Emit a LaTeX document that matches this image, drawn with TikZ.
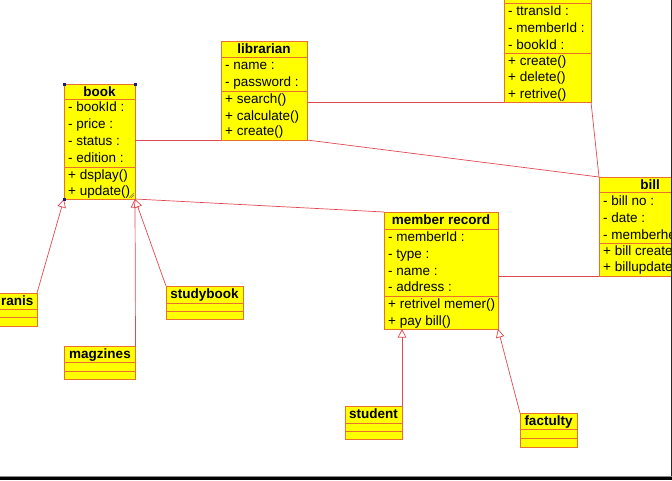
\documentclass[tikz,border=0pt]{standalone}
\usepackage{fontspec}
\setmainfont{Liberation Sans}
\usetikzlibrary{arrows.meta}

\definecolor{classfill}{RGB}{255,255,0}
\definecolor{classedge}{RGB}{234,112,44}
\definecolor{linkred}{RGB}{226,72,82}
\definecolor{handle}{RGB}{30,30,120}
\definecolor{grip}{RGB}{120,130,40}

% a class rectangle from (x0,y0) to (x1,y1) with two compartment rules
\newcommand\classbox[7]{%
  \node[classrect, minimum width={(#4-#2)*1pt}, minimum height={(#5-#3)*1pt},
        anchor=north west] (#1) at (#2,#3) {};
  \draw[classedge, line width=0.9pt] (#2,#6) -- (#4,#6) (#2,#7) -- (#4,#7);
}

\tikzset{
  classrect/.style={draw=classedge, fill=classfill, line width=0.9pt,
                    rectangle, inner sep=0pt, outer sep=0pt},
  member/.style={anchor=west, inner sep=0pt, text height=9.7pt, text depth=0.8pt,
                 font=\fontsize{13.5}{16}\selectfont},
  ctitle/.style={inner sep=0pt, text height=9.7pt, text depth=0.8pt,
                 font=\fontsize{13.5}{16}\selectfont\bfseries},
  assoc/.style={draw=linkred, line width=0.7pt},
  gen/.style={assoc, -{Triangle[length=8.5pt, width=8.5pt, fill=white]}},
}

\begin{document}
\begin{tikzpicture}[x=1pt, y=-1pt]
\useasboundingbox (0,0) rectangle (672,480);
\clip (0,0) rectangle (672,480);

% ---- class boxes ----
\classbox{book}{64}{84}{135}{199}{99}{167}
\classbox{lib}{221}{41}{307}{140}{57}{91}
\classbox{trans}{504}{-14}{591}{102}{3}{53}
\classbox{bill}{599}{177}{701}{276}{192}{243}
\classbox{mrec}{384}{212}{498}{329}{229}{296}
\classbox{study}{166}{286}{243}{319}{303}{311}
\classbox{magz}{64}{346}{135.5}{379}{362}{371}
\classbox{tranis}{-12}{293}{37}{326}{309}{317}
\classbox{student}{345}{406}{402}{439}{423}{431}
\classbox{fac}{520}{413}{577}{447}{429}{438}

% ---- book ----
\node[ctitle] (book-t) at (99.5,92) {book};
\node[member] (book-a1) at (68,107.5) {- bookId :};
\node[member] (book-a2) at (68,124.5) {- price :};
\node[member] (book-a3) at (68,141.5) {- status :};
\node[member] (book-a4) at (68,158.5) {- edition :};
\node[member] (book-m1) at (68,175) {+ dsplay()};
\node[member] (book-m2) at (68,191.5) {+ update()};

% ---- librarian ----
\node[ctitle] (lib-t) at (264,49) {librarian};
\node[member] (lib-a1) at (225,65.5) {- name :};
\node[member] (lib-a2) at (225,82.5) {- password :};
\node[member] (lib-m1) at (225,99.3) {+ search()};
\node[member] (lib-m2) at (225,115.6) {+ calculate()};
\node[member] (lib-m3) at (225,131.5) {+ create()};

% ---- transaction ----
\node[member] (trans-a1) at (508,11.3) {- ttransId :};
\node[member] (trans-a2) at (508,28) {- memberId :};
\node[member] (trans-a3) at (508,44.6) {- bookId :};
\node[member] (trans-m1) at (508,61.2) {+ create()};
\node[member] (trans-m2) at (508,77.5) {+ delete()};
\node[member] (trans-m3) at (508,93.8) {+ retrive()};

% ---- bill ----
\node[ctitle] (bill-t) at (650,185) {bill};
\node[member] (bill-a1) at (603,201) {- bill no :};
\node[member] (bill-a2) at (603,218) {- date :};
\node[member] (bill-a3) at (603,234.8) {- memberhe};
\node[member] (bill-m1) at (603,251) {+ bill create};
\node[member] (bill-m2) at (603,267) {+ billupdate};

% ---- member record ----
\node[ctitle] (mrec-t) at (441,220.5) {member record};
\node[member] (mrec-a1) at (388,237.5) {- memberId :};
\node[member] (mrec-a2) at (388,254.2) {- type :};
\node[member] (mrec-a3) at (388,270.9) {- name :};
\node[member] (mrec-a4) at (388,287.5) {- address :};
\node[member] (mrec-m1) at (388,304.3) {+ retrivel memer()};
\node[member] (mrec-m2) at (388,321) {+ pay bill()};

% ---- empty subclasses ----
\node[ctitle] (study-t) at (204.5,294.5) {studybook};
\node[ctitle] (magz-t) at (100,354) {magzines};
\node[ctitle, anchor=east] (tranis-t) at (33.5,301) {ranis};
\node[ctitle] (student-t) at (373.5,414.5) {student};
\node[ctitle] (fac-t) at (548.5,421.5) {factulty};

% ---- associations ----
\draw[assoc] (book.south east |- lib.south west) -- (lib.south west);
\draw[assoc] (lib.south east) -- (bill.north west);
\draw[assoc] (lib.south east |- trans.south west) -- (trans.south west);
\draw[assoc] (trans.south east) -- (bill.north west);
\draw[assoc] (book.south east) -- (mrec.north west);
\draw[assoc] (mrec.south east |- bill.south west) -- (bill.south west);

% ---- generalizations ----
\draw[gen] (tranis.north east) -- (book.south west);
\draw[gen] (magz.north east) -- (book.south east);
\draw[gen] (study.north west) -- (book.south east);
\draw[gen] (student.north east) -- (student.north east |- mrec.south);
\draw[gen] (fac.north west) -- (mrec.south east);

% ---- selection handles on book ----
\fill[handle] (book.north west) ++(-1.5,-1.5) rectangle ++(3,3);
\fill[handle] (book.north east) ++(-1.5,-1.5) rectangle ++(3,3);
\fill[handle] (book.south west) ++(-1.5,-1.5) rectangle ++(3,3);
\draw[grip, line width=0.5pt]
  (book.south east) ++(-6,-1) -- ++(5,-5)
  (book.south east) ++(-4,-1) -- ++(3,-3);

% ---- window edges ----
\fill[black!85] (670.5,0) rectangle (672,480);
\fill[black] (0,477) rectangle (672,480);
\fill[black!45] (0,476.3) rectangle (672,477);
\end{tikzpicture}
\end{document}
